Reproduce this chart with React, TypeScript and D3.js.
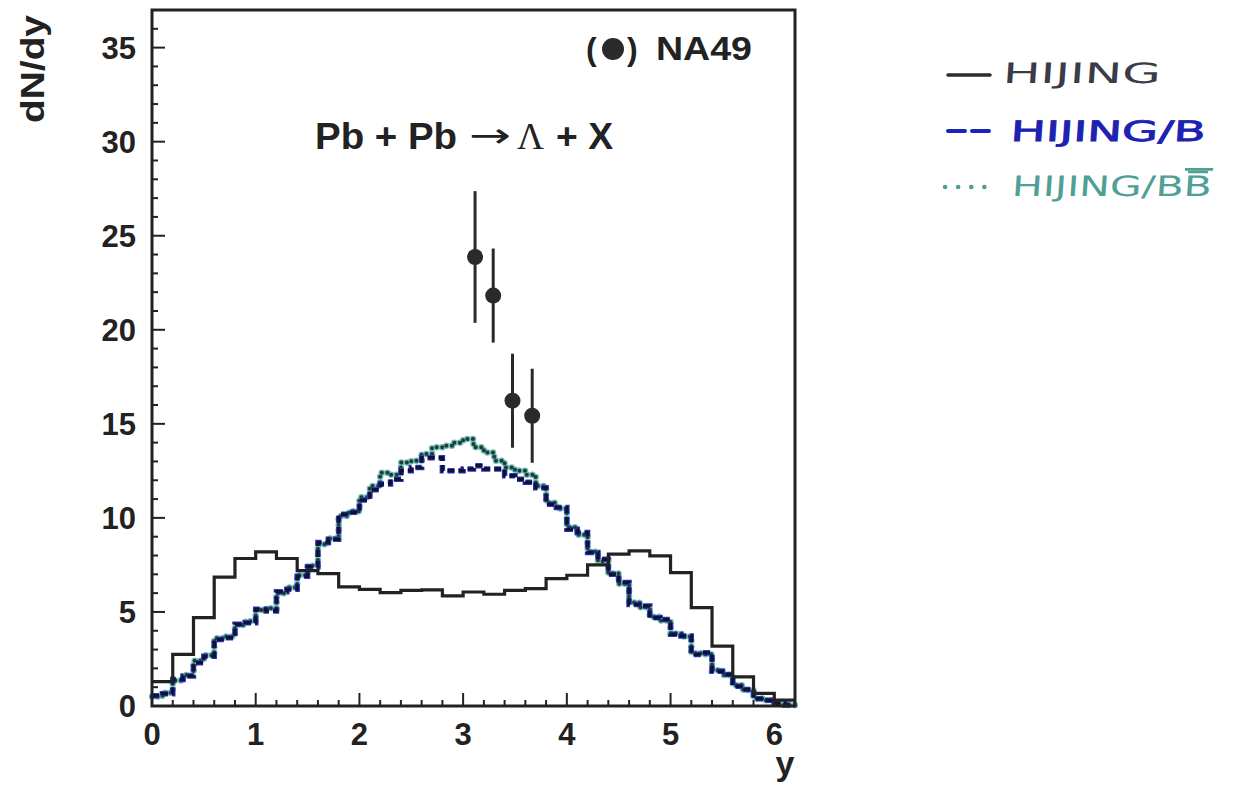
import React, { useEffect, useRef } from "react";
import * as d3 from "d3";

// HIJING (solid), bins of 0.2 in y from 0 to 6.2
const hijingSolid = [1.3, 2.74, 4.7, 6.85, 7.84, 8.19, 7.84, 7.2, 7.04, 6.33, 6.2, 6.03, 6.15, 6.17, 5.85, 6.06, 5.94, 6.15, 6.24, 6.77, 6.95, 7.5, 8.07, 8.25, 7.98, 7.09, 5.23, 3.18, 1.55, 0.67, 0.31];
// HIJING/B (dashed), bins of 0.1
const hijingB = [0.55, 0.65, 1.41, 1.59, 2.3, 2.65, 3.54, 3.63, 4.34, 4.43, 5.14, 5.05, 6.07, 6.2, 6.9, 7.4, 8.69, 8.87, 10.2, 10.3, 10.95, 11.5, 11.8, 12.06, 12.5, 12.68, 13.2, 13.2, 12.5, 12.5, 12.6, 12.77, 12.6, 12.6, 12.24, 12.06, 11.9, 11.6, 10.73, 10.55, 9.4, 9.22, 8.16, 7.8, 7.0, 6.56, 5.4, 5.31, 4.69, 4.6, 3.81, 3.72, 2.74, 2.83, 1.85, 1.68, 1.05, 0.88, 0.38, 0.31, 0.12, 0.05];
// HIJING/BBbar (dotted), bins of 0.1
const hijingBB = [0.5, 0.7, 1.35, 1.65, 2.4, 2.7, 3.6, 3.7, 4.3, 4.5, 5.1, 5.2, 6.0, 6.3, 6.95, 7.45, 8.6, 8.9, 10.1, 10.35, 11.1, 11.7, 12.4, 12.3, 12.95, 13.04, 13.4, 13.75, 13.83, 14.0, 14.2, 13.75, 13.48, 13.04, 12.68, 12.5, 12.3, 11.7, 10.8, 10.5, 9.5, 9.1, 8.2, 7.7, 7.05, 6.5, 5.5, 5.25, 4.75, 4.55, 3.85, 3.7, 2.8, 2.75, 1.9, 1.65, 1.1, 0.85, 0.4, 0.3, 0.12, 0.05];

// NA49 data
const na49X = [3.115, 3.29, 3.476, 3.666];
const na49Y = [23.87, 21.82, 16.23, 15.43];
const na49Err = [3.5, 2.5, 2.5, 2.5];

const xTicks = [0, 1, 2, 3, 4, 5, 6];
const yTicks = [0, 5, 10, 15, 20, 25, 30, 35];

const legendLabels = ["HIJING", "HIJING/B", "HIJING/B"];

function stepPoints(values: number[], width: number): [number, number][] {
  const pts: [number, number][] = values.map((v, i) => [i * width, v]);
  pts.push([values.length * width, values[values.length - 1]]);
  return pts;
}

export default function App() {
  const ref = useRef<SVGSVGElement>(null);

  useEffect(() => {
    const svg = d3.select(ref.current);
    svg.selectAll("*").remove();

    const x = d3.scaleLinear().domain([0, 6.2]).range([152, 795]);
    const y = d3.scaleLinear().domain([0, 37]).range([706, 10]);
    const sans = "'Liberation Sans', Arial, Helvetica, sans-serif";

    const line = d3
      .line<[number, number]>()
      .x((d) => x(d[0]))
      .y((d) => y(d[1]))
      .curve(d3.curveStepAfter);

    const g = svg.append("g");

    // dotted HIJING/BBbar
    const ptsBB = stepPoints(hijingBB, 0.1);
    g.append("path").attr("d", line(ptsBB)!).attr("fill", "none")
      .attr("stroke", "#74c0b8").attr("stroke-width", 6.5).attr("stroke-dasharray", "0.1,5.5").attr("stroke-linecap", "round");
    g.append("path").attr("d", line(ptsBB)!).attr("fill", "none")
      .attr("stroke", "#1e3a3a").attr("stroke-width", 4).attr("stroke-dasharray", "0.1,5.5").attr("stroke-linecap", "round");

    // dashed HIJING/B
    const ptsB = stepPoints(hijingB, 0.1);
    g.append("path").attr("d", line(ptsB)!).attr("fill", "none")
      .attr("stroke", "#2a38c8").attr("stroke-width", 5.5).attr("stroke-dasharray", "7,4");
    g.append("path").attr("d", line(ptsB)!).attr("fill", "none")
      .attr("stroke", "#121230").attr("stroke-width", 3.5).attr("stroke-dasharray", "7,4");

    // solid HIJING
    g.append("path").attr("d", line(stepPoints(hijingSolid, 0.2))!).attr("fill", "none")
      .attr("stroke", "#222").attr("stroke-width", 3.2);

    // NA49 points
    na49X.forEach((xv, i) => {
      g.append("line")
        .attr("x1", x(xv)).attr("x2", x(xv))
        .attr("y1", y(na49Y[i] - na49Err[i])).attr("y2", y(na49Y[i] + na49Err[i]))
        .attr("stroke", "#2a2a2a").attr("stroke-width", 3);
      g.append("circle").attr("cx", x(xv)).attr("cy", y(na49Y[i])).attr("r", 8).attr("fill", "#2a2a2a");
    });

    // frame
    g.append("rect").attr("x", 152).attr("y", 10).attr("width", 643).attr("height", 696)
      .attr("fill", "none").attr("stroke", "#222").attr("stroke-width", 3);

    // x ticks
    for (let k = 0; k <= 31; k++) {
      const v = k * 0.2;
      const major = k % 5 === 0;
      g.append("line").attr("x1", x(v)).attr("x2", x(v))
        .attr("y1", 706).attr("y2", 706 - (major ? 13 : 6))
        .attr("stroke", "#222").attr("stroke-width", 2);
    }
    // y ticks
    for (let v = 0; v <= 37; v++) {
      const major = v % 5 === 0;
      g.append("line").attr("x1", 152).attr("x2", 152 + (major ? 13 : 6))
        .attr("y1", y(v)).attr("y2", y(v))
        .attr("stroke", "#222").attr("stroke-width", 2);
    }

    // tick labels
    xTicks.forEach((t) => {
      g.append("text").attr("x", x(t)).attr("y", 745).attr("text-anchor", "middle")
        .attr("font-family", sans).attr("font-weight", "bold").attr("font-size", 31)
        .attr("fill", "#222").text(String(t));
    });
    yTicks.forEach((t) => {
      g.append("text").attr("x", 136).attr("y", y(t)).attr("dy", "0.36em").attr("text-anchor", "end")
        .attr("font-family", sans).attr("font-weight", "bold").attr("font-size", 31)
        .attr("fill", "#222").text(String(t));
    });

    // axis titles
    g.append("text").attr("x", 785).attr("y", 775).attr("text-anchor", "middle")
      .attr("font-family", sans).attr("font-weight", "bold").attr("font-size", 34)
      .attr("fill", "#222").text("y");
    g.append("text").attr("transform", "translate(44,69) rotate(-90)").attr("text-anchor", "middle")
      .attr("textLength", 108).attr("lengthAdjust", "spacingAndGlyphs")
      .attr("font-family", sans).attr("font-weight", "bold").attr("font-size", 33)
      .attr("fill", "#222").text("dN/dy");

    // NA49 label
    g.append("text").attr("x", 586).attr("y", 60)
      .attr("font-family", sans).attr("font-weight", "bold").attr("font-size", 32).attr("fill", "#222").text("(");
    g.append("circle").attr("cx", 613).attr("cy", 49).attr("r", 11).attr("fill", "#2a2a2a");
    g.append("text").attr("x", 627).attr("y", 60)
      .attr("font-family", sans).attr("font-weight", "bold").attr("font-size", 32).attr("fill", "#222").text(")");
    g.append("text").attr("x", 656).attr("y", 60).attr("textLength", 96).attr("lengthAdjust", "spacingAndGlyphs")
      .attr("font-family", sans).attr("font-weight", "bold").attr("font-size", 33).attr("fill", "#222").text("NA49");

    // reaction label
    g.append("text").attr("x", 315).attr("y", 149).attr("textLength", 142).attr("lengthAdjust", "spacingAndGlyphs")
      .attr("font-family", sans).attr("font-weight", "bold").attr("font-size", 36).attr("fill", "#222").text("Pb + Pb");
    g.append("text").attr("x", 469).attr("y", 147).attr("textLength", 42).attr("lengthAdjust", "spacingAndGlyphs")
      .attr("font-family", "'DejaVu Sans', sans-serif").attr("font-size", 34).attr("fill", "#222").text("\u2192");
    g.append("text").attr("x", 517).attr("y", 149).attr("textLength", 27).attr("lengthAdjust", "spacingAndGlyphs")
      .attr("font-family", "'Liberation Serif', 'DejaVu Serif', serif").attr("font-size", 38).attr("fill", "#222").text("\u039B");
    g.append("text").attr("x", 556).attr("y", 149).attr("textLength", 57).attr("lengthAdjust", "spacingAndGlyphs")
      .attr("font-family", sans).attr("font-weight", "bold").attr("font-size", 36).attr("fill", "#222").text("+ X");

    // legend
    const hand = "'DejaVu Sans', sans-serif";
    const L = svg.append("g");
    L.append("line").attr("x1", 948).attr("x2", 990).attr("y1", 75).attr("y2", 75)
      .attr("stroke", "#2b2b30").attr("stroke-width", 3.5).attr("stroke-linecap", "round");
    L.append("text").attr("x", 1008).attr("y", 83).attr("textLength", 158).attr("lengthAdjust", "spacingAndGlyphs")
      .attr("font-family", hand).attr("font-size", 28).attr("fill", "#3a3a48").attr("transform", "skewX(-4)")
      .text(legendLabels[0]);

    L.append("line").attr("x1", 948).attr("x2", 992).attr("y1", 131).attr("y2", 131)
      .attr("stroke", "#1c25b8").attr("stroke-width", 4).attr("stroke-dasharray", "17,7").attr("stroke-linecap", "round");
    L.append("text").attr("x", 1020).attr("y", 141).attr("textLength", 195).attr("lengthAdjust", "spacingAndGlyphs")
      .attr("font-family", hand).attr("font-size", 28).attr("fill", "#1d22b0").attr("stroke", "#1d22b0").attr("stroke-width", 0.8)
      .attr("transform", "skewX(-4)")
      .text(legendLabels[1]);

    L.append("line").attr("x1", 945).attr("x2", 996).attr("y1", 187).attr("y2", 187)
      .attr("stroke", "#4d9e94").attr("stroke-width", 4.5).attr("stroke-dasharray", "0.1,13").attr("stroke-linecap", "round");
    const t3 = L.append("text").attr("x", 1025).attr("y", 196).attr("textLength", 200).attr("lengthAdjust", "spacingAndGlyphs")
      .attr("font-family", hand).attr("font-size", 28).attr("fill", "#4f9f96").attr("transform", "skewX(-4)");
    t3.append("tspan").text(legendLabels[2]);
    t3.append("tspan").attr("text-decoration", "overline").text("B");
    L.append("line").attr("x1", 1188).attr("x2", 1208).attr("y1", 172).attr("y2", 172)
      .attr("stroke", "#4f9f96").attr("stroke-width", 2.5);
  }, []);

  return (
    <svg
      ref={ref}
      width={1233}
      height={785}
      style={{ position: "absolute", left: 0, top: 0, background: "#fff" }}
    />
  );
}
